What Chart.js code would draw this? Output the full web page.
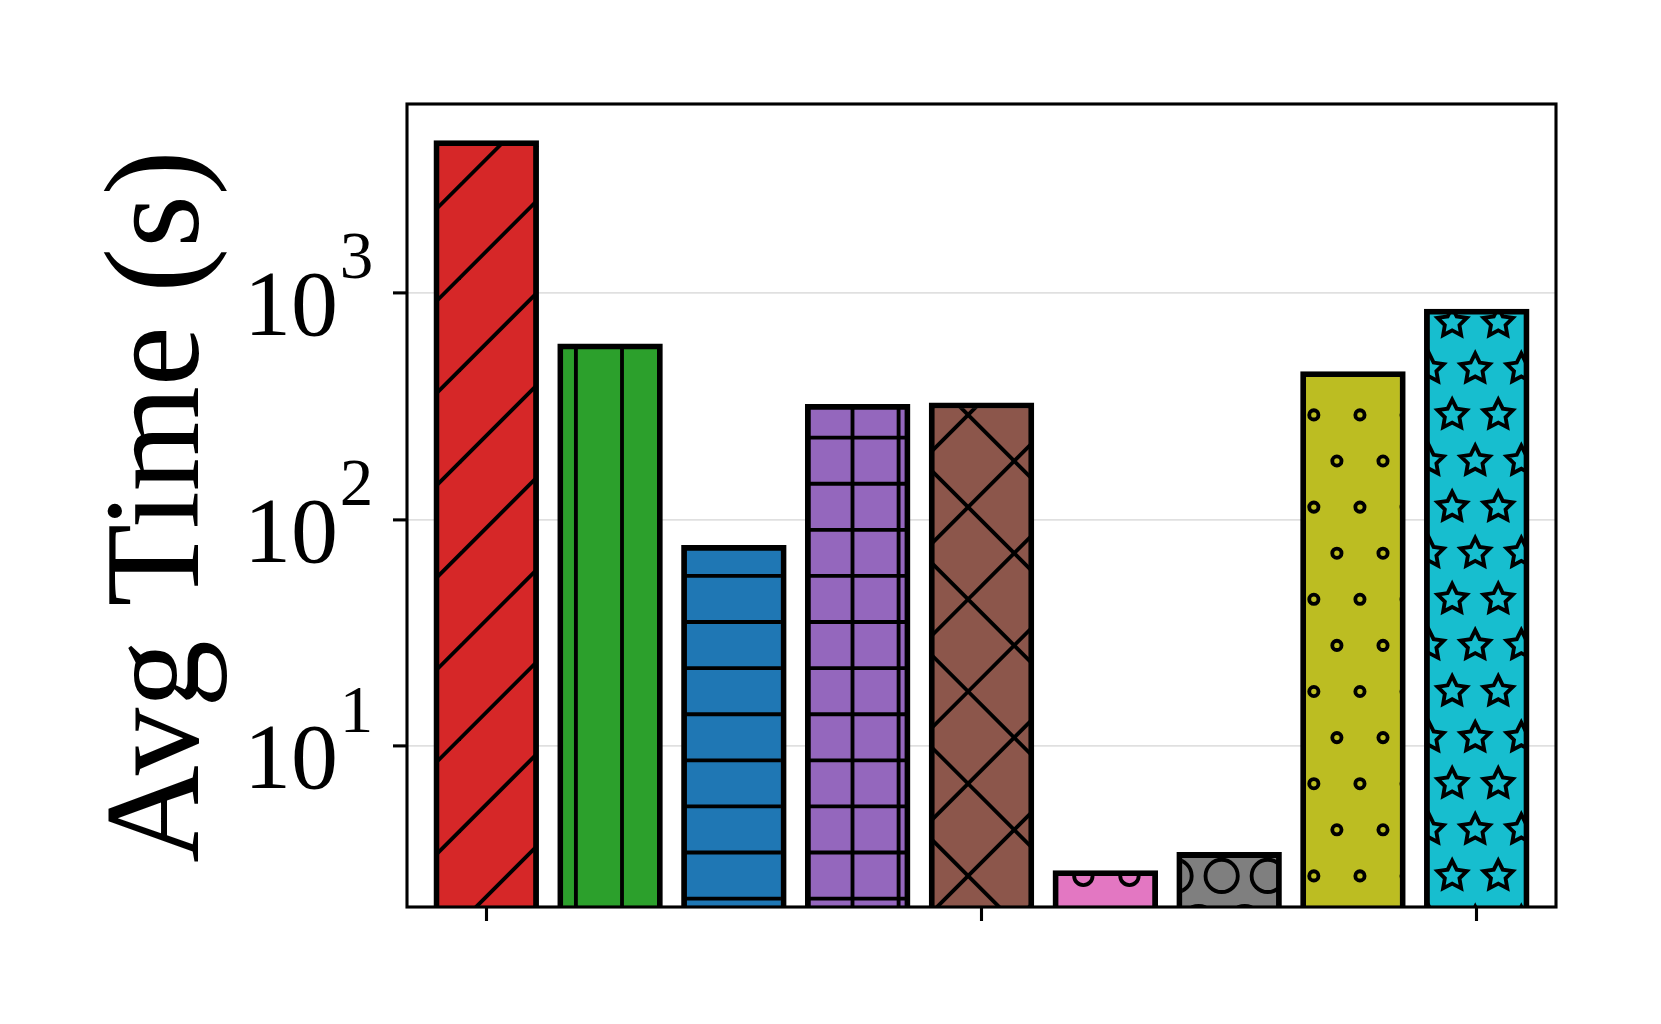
<!DOCTYPE html>
<html><head><meta charset="utf-8">
<style>html,body{margin:0;padding:0;background:#fff;overflow:hidden}canvas{display:block}</style>
<script src="https://cdn.jsdelivr.net/npm/chart.js@4/dist/chart.umd.min.js"></script>
</head><body>
<canvas id="c" width="1661" height="1024"></canvas>
<script>
// ---- data ----
const categories = ['Method 1','Method 2','Method 3','Method 4','Method 5','Method 6','Method 7','Method 8','Method 9'];
const avgTime = [4710, 597, 77, 323, 328, 2.83, 3.40, 450, 850];
const barColors = ['#d62728','#2ca02c','#1f77b4','#9467bd','#8c564b','#e377c2','#7f7f7f','#bcbd22','#17becf'];
const hatches = ['/','|','-','+','x','o','O','.','*'];
const yTickValues = [10, 100, 1000];
const xTickPositions = [0, 4, 8];
const yTitle = 'Avg Time (s)';

// ---- hatch patterns (period P, tile T = 10*P, anchored to canvas origin) ----
const P = 46.1, T = 461, HLW = 3.85;
function makePattern(ctx, color, hatch) {
  const c = document.createElement('canvas'); c.width = T; c.height = T;
  const g = c.getContext('2d');
  g.fillStyle = color; g.fillRect(0, 0, T, T);
  g.strokeStyle = '#000'; g.lineWidth = HLW;
  const line = (x1, y1, x2, y2) => { g.beginPath(); g.moveTo(x1, y1); g.lineTo(x2, y2); g.stroke(); };
  if (hatch === '/' || hatch === 'x') {
    for (let k = -2; k <= 13; k++) { const c0 = k * 2 * P; line(-60, c0 + 60, T + 60, c0 - T - 60); }
  }
  if (hatch === 'x') {
    for (let k = -8; k <= 8; k++) { const d = k * 2 * P; line(-60, d - 60, T + 60, d + T + 60); }
  }
  if (hatch === '|' || hatch === '+') {
    for (let k = -1; k <= 10; k++) line(22.7 + k * P, -10, 22.7 + k * P, T + 10);
  }
  if (hatch === '-' || hatch === '+') {
    for (let k = -1; k <= 10; k++) line(-10, 22.7 + k * P, T + 10, 22.7 + k * P);
  }
  const sizes = { 'o': 0.2, 'O': 0.35, '.': 0.1, '*': 1 / 3 };
  if (sizes[hatch] !== undefined) {
    const R = P * sizes[hatch];
    for (let j = -1; j <= 11; j++) {
      const y = j * P;
      const odd = Math.abs(j) % 2 === 1;
      for (let i = -1; i <= 11; i++) {
        const x = i * P + (odd ? P / 2 : 0);
        g.beginPath();
        if (hatch === '*') {
          for (let k = 0; k < 10; k++) {
            const a = -Math.PI / 2 + k * Math.PI / 5;
            const r = k % 2 === 0 ? R : R * 0.5;
            const px = x + r * Math.cos(a), py = y + r * Math.sin(a);
            if (k === 0) g.moveTo(px, py); else g.lineTo(px, py);
          }
          g.closePath();
        } else {
          g.arc(x, y, R, 0, Math.PI * 2);
        }
        g.stroke();
      }
    }
  }
  return ctx.createPattern(c, 'repeat');
}

const canvas = document.getElementById('c');
const ctx = canvas.getContext('2d');
const patterns = barColors.map((col, i) => makePattern(ctx, col, hatches[i]));

// matplotlib-like log autoscale (5% margins in log space)
const lo = Math.log10(Math.min(...avgTime)), hi = Math.log10(Math.max(...avgTime));
const mrg = 0.05 * (hi - lo);
const yMin = Math.pow(10, lo - mrg), yMax = Math.pow(10, hi + mrg);

const serif = "'Liberation Serif', 'Times New Roman', serif";
const frameAndLabels = {
  id: 'frameAndLabels',
  afterDraw(chart) {
    const { ctx, chartArea: a, scales: { y } } = chart;
    ctx.save();
    ctx.strokeStyle = '#000'; ctx.lineWidth = 3.1;
    ctx.strokeRect(a.left, a.top, a.right - a.left, a.bottom - a.top);
    ctx.fillStyle = '#000';
    ctx.textBaseline = 'alphabetic';
    yTickValues.forEach(v => {
      const py = y.getPixelForValue(v);
      const k = Math.round(Math.log10(v));
      ctx.font = '94px ' + serif; ctx.textAlign = 'right';
      ctx.fillText('10', a.left - 69, py + 42);
      ctx.font = '67px ' + serif; ctx.textAlign = 'left';
      ctx.fillText(String(k), a.left - 67.3, py - 14.7);
    });
    ctx.translate(a.left - 209, (a.top + a.bottom) / 2 + 1);
    ctx.rotate(-Math.PI / 2);
    ctx.font = '135px ' + serif; ctx.textAlign = 'center';
    ctx.fillText(yTitle, 0, 0);
    ctx.restore();
  }
};

new Chart(ctx, {
  type: 'bar',
  data: {
    labels: categories,
    datasets: [{
      label: yTitle,
      data: avgTime.map((v, i) => ({ x: i, y: v })),
      backgroundColor: patterns,
      borderColor: '#000',
      borderWidth: 5.8,
      borderSkipped: 'start',
      barThickness: 104.8
    }]
  },
  options: {
    responsive: false,
    animation: false,
    devicePixelRatio: 1,
    layout: { padding: { left: 0, right: 105, top: 104, bottom: 103 } },
    plugins: { legend: { display: false }, tooltip: { enabled: false }, title: { display: false } },
    scales: {
      x: {
        type: 'linear', min: -0.64, max: 8.64, offset: false,
        afterBuildTicks: s => { s.ticks = xTickPositions.map(v => ({ value: v })); },
        afterFit: s => { s.height = 14; },
        ticks: { display: false },
        grid: { offset: false, drawOnChartArea: false, drawTicks: true, tickLength: 14, tickWidth: 3.1, tickColor: '#000' },
        border: { display: false }
      },
      y: {
        type: 'logarithmic', min: yMin, max: yMax,
        afterBuildTicks: s => { s.ticks = yTickValues.map(v => ({ value: v, major: true })); },
        afterFit: s => { s.width = 407; },
        ticks: { display: false },
        grid: { color: '#e0e0e0', lineWidth: 1.8, drawTicks: true, tickLength: 14, tickWidth: 3.1, tickColor: '#000' },
        border: { display: false }
      }
    }
  },
  plugins: [frameAndLabels]
});
</script>
</body></html>
